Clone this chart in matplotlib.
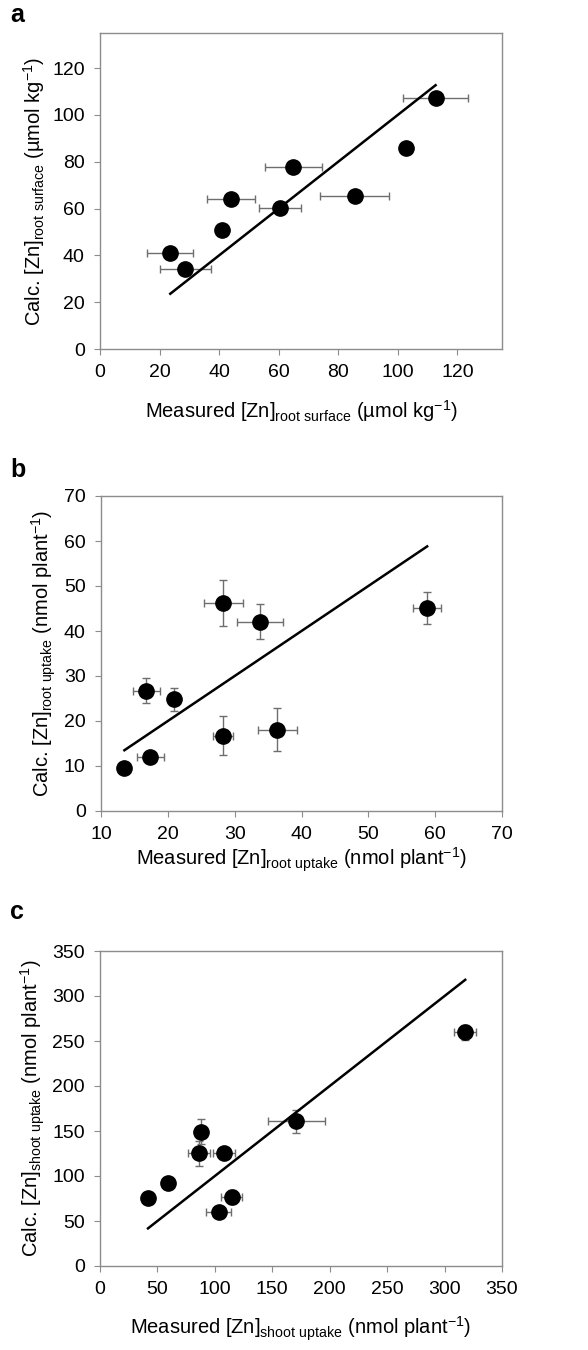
import matplotlib
matplotlib.use("Agg")
import matplotlib.pyplot as plt

plt.rcParams['font.family'] = ['Liberation Sans', 'DejaVu Sans']
plt.rcParams['mathtext.default'] = 'regular'

# panel a: root surface concentration (umol kg-1)
a_meas = [23.6, 28.7, 40.9, 44.0, 60.4, 64.9, 85.6, 102.7, 112.7]
a_meas_err = [7.7, 8.7, 0.0, 8.1, 7.0, 9.6, 11.6, 1.0, 10.8]
a_calc = [40.9, 34.3, 50.9, 63.9, 60.1, 77.6, 65.3, 85.9, 107.3]
a_calc_err = [0.0, 0.0, 0.0, 0.0, 0.0, 0.0, 0.0, 1.5, 0.0]
a_line = [23.6, 112.7]

# panel b: root uptake (nmol plant-1)
b_meas = [13.5, 17.4, 16.8, 20.9, 28.3, 33.8, 28.3, 36.4, 58.8]
b_meas_err = [0.0, 2.0, 2.0, 0.7, 2.9, 3.4, 1.5, 2.9, 2.1]
b_calc = [9.6, 11.9, 26.7, 24.8, 46.2, 42.1, 16.7, 18.1, 45.1]
b_calc_err = [0.0, 0.5, 2.8, 2.6, 5.1, 3.8, 4.3, 4.8, 3.6]
b_line = [13.5, 58.8]

# panel c: shoot uptake (nmol plant-1)
c_meas = [41.8, 59.4, 86.4, 87.9, 108.1, 103.2, 114.5, 171.0, 318.0]
c_meas_err = [0.0, 0.0, 9.7, 0.0, 9.6, 10.9, 9.4, 25.0, 9.4]
c_calc = [75.2, 92.6, 125.2, 149.3, 125.2, 60.0, 77.0, 160.7, 259.6]
c_calc_err = [6.0, 0.0, 13.7, 14.0, 5.0, 0.0, 8.0, 12.8, 8.0]
c_line = [41.8, 318.0]

panels = [
    dict(label='a', meas=a_meas, mx=a_meas_err, calc=a_calc, cy=a_calc_err, line=a_line,
         lim=(0, 135), xlim=(0, 135), xticks=range(0, 121, 20), yticks=range(0, 121, 20),
         xlabel='Measured [Zn]$_{root\\ surface}$ (µmol kg$^{-1}$)',
         ylabel='Calc. [Zn]$_{root\\ surface}$ (µmol kg$^{-1}$)'),
    dict(label='b', meas=b_meas, mx=b_meas_err, calc=b_calc, cy=b_calc_err, line=b_line,
         lim=(0, 70), xlim=(10, 70), xticks=range(10, 71, 10), yticks=range(0, 71, 10),
         xlabel='Measured [Zn]$_{root\\ uptake}$ (nmol plant$^{-1}$)',
         ylabel='Calc. [Zn]$_{root\\ uptake}$ (nmol plant$^{-1}$)'),
    dict(label='c', meas=c_meas, mx=c_meas_err, calc=c_calc, cy=c_calc_err, line=c_line,
         lim=(0, 350), xlim=(0, 350), xticks=range(0, 351, 50), yticks=range(0, 351, 50),
         xlabel='Measured [Zn]$_{shoot\\ uptake}$ (nmol plant$^{-1}$)',
         ylabel='Calc. [Zn]$_{shoot\\ uptake}$ (nmol plant$^{-1}$)'),
]

W, H = 588, 1350
fig = plt.figure(figsize=(W / 100, H / 100), dpi=100)

# axes boxes in pixels: left, top, right, bottom
boxes = [(100, 33, 502, 349), (101, 496, 502, 811), (100, 951, 502, 1266)]
label_y = [15, 470, 912]
xlabel_pad = [12, 2, 12]

for p, (l, t, r, b), ly, pad in zip(panels, boxes, label_y, xlabel_pad):
    ax = fig.add_axes([l / W, 1 - b / H, (r - l) / W, (b - t) / H])
    ax.errorbar(p['meas'], p['calc'], xerr=p['mx'], yerr=p['cy'], fmt='none',
                ecolor='#6e6e6e', elinewidth=1.0, capsize=3, capthick=1.0, zorder=2)
    ax.plot(p['line'], p['line'], color='black', lw=1.8, zorder=3)
    ax.plot(p['meas'], p['calc'], 'o', color='black', ms=11, zorder=4)
    ax.set_xlim(*p['xlim'])
    ax.set_ylim(*p['lim'])
    ax.set_xticks(list(p['xticks']))
    ax.set_yticks(list(p['yticks']))
    for s in ax.spines.values():
        s.set_color('#8c8c8c')
        s.set_linewidth(1.0)
    ax.tick_params(direction='out', length=4, color='#8c8c8c', labelsize=14,
                   labelcolor='black', pad=7)
    ax.set_xlabel(p['xlabel'], fontsize=14.5, labelpad=pad)
    ax.set_ylabel(p['ylabel'], fontsize=14.5, labelpad=4)
    fig.text(10 / W, 1 - ly / H, p['label'], fontsize=18, fontweight='bold',
             va='center', ha='left')

fig.savefig('out.png', dpi=100)
